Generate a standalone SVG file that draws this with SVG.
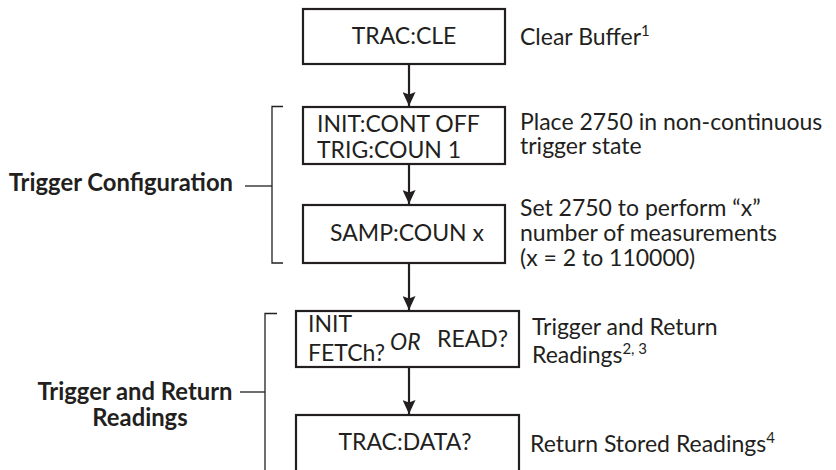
<svg xmlns="http://www.w3.org/2000/svg" width="836" height="470" viewBox="0 0 836 470">
<style>
.box{fill:#fff;stroke:#231f20;stroke-width:2.2}
.t{font-family:Lato,"Open Sans","Liberation Sans",sans-serif;font-size:23px;fill:#231f20}
.b{font-weight:bold;font-size:23.8px}
.sup{font-size:15px}
.ln{fill:none;stroke:#231f20;stroke-width:2.2}
.br{fill:none;stroke:#231f20;stroke-width:1.3}
</style>
<defs>
<marker id="ah" markerUnits="userSpaceOnUse" markerWidth="14" markerHeight="13" viewBox="0 0 14 13" refX="14" refY="6.5" orient="auto">
<path d="M0,0 L14,6.5 L0,13 L2.5,6.5 Z" fill="#231f20"/>
</marker>
</defs>
<rect width="836" height="470" fill="#fff"/>
<g id="connectors">
<line class="ln" x1="409" y1="65" x2="409" y2="106" marker-end="url(#ah)"/>
<line class="ln" x1="409" y1="165" x2="409" y2="204" marker-end="url(#ah)"/>
<line class="ln" x1="409" y1="264" x2="409" y2="310" marker-end="url(#ah)"/>
<line class="ln" x1="409" y1="368" x2="409" y2="414" marker-end="url(#ah)"/>
</g>
<g id="node-trac-cle">
<rect class="box" x="303" y="9" width="202" height="55"/>
<text class="t" x="404" y="43.5" text-anchor="middle">TRAC:CLE</text>
</g>
<g id="node-init-cont">
<rect class="box" x="303" y="107" width="202" height="57"/>
<text class="t" x="317" y="132">INIT:CONT OFF</text>
<text class="t" x="317" y="158">TRIG:COUN 1</text>
</g>
<g id="node-samp-coun">
<rect class="box" x="303" y="205" width="202" height="58"/>
<text class="t" x="407" y="241" text-anchor="middle">SAMP:COUN x</text>
</g>
<g id="node-init-read">
<rect class="box" x="296" y="311" width="223" height="56"/>
<text class="t" x="308" y="332">INIT</text>
<text class="t" x="308" y="361">FETCh?</text>
<text class="t" x="390" y="350" font-style="italic">OR</text>
<text class="t" x="437" y="347">READ?</text>
</g>
<g id="node-trac-data">
<rect class="box" x="296" y="415" width="223" height="70"/>
<text class="t" x="405" y="450" text-anchor="middle">TRAC:DATA?</text>
</g>
<g id="notes">
<text class="t" x="520" y="45">Clear Buffer<tspan class="sup" dy="-9">1</tspan></text>
<text class="t" x="520" y="130">Place 2750 in non-continuous</text>
<text class="t" x="520" y="154">trigger state</text>
<text class="t" x="520" y="216">Set 2750 to perform “x”</text>
<text class="t" x="520" y="241">number of measurements</text>
<text class="t" x="520" y="266">(x = 2 to 110000)</text>
<text class="t" x="532" y="335">Trigger and Return</text>
<text class="t" x="532" y="363">Readings<tspan class="sup" dy="-9">2, 3</tspan></text>
<text class="t" x="530" y="452">Return Stored Readings<tspan class="sup" dy="-9">4</tspan></text>
</g>
<g id="group-trigger-config">
<path class="br" d="M283,106.5 H272 V263 H283"/>
<line class="br" x1="245" y1="186" x2="272" y2="186"/>
<text class="t b" x="233" y="191" text-anchor="end">Trigger Configuration</text>
</g>
<g id="group-trigger-return">
<path class="br" d="M277,313.5 H265 V470"/>
<line class="br" x1="240" y1="392" x2="265" y2="392"/>
<text class="t b" x="135" y="400" text-anchor="middle">Trigger and Return</text>
<text class="t b" x="140" y="426" text-anchor="middle">Readings</text>
</g>
</svg>
